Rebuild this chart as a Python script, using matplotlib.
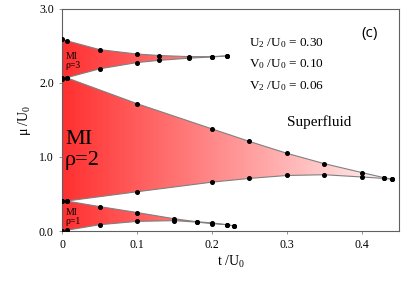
import matplotlib.pyplot as plt
import numpy as np
from matplotlib.patches import Polygon
from matplotlib.colors import LinearSegmentedColormap

# lobe rho=1
t1 = [0, 0.006, 0.05, 0.1, 0.15, 0.18, 0.2, 0.22, 0.23]
up1 = [0.405, 0.405, 0.33, 0.25, 0.165, 0.125, 0.11, 0.085, 0.067]
lo1 = [0.005, 0.01, 0.085, 0.13, 0.14, 0.12, 0.10, 0.085, 0.067]

# lobe rho=2
t2 = [0, 0.006, 0.1, 0.2, 0.25, 0.3, 0.35, 0.4, 0.43, 0.44]
up2 = [2.05, 2.07, 1.72, 1.38, 1.21, 1.05, 0.91, 0.79, 0.72, 0.70]
lo2 = [0.405, 0.405, 0.53, 0.66, 0.71, 0.75, 0.76, 0.73, 0.71, 0.70]

# lobe rho=3
t3 = [0, 0.006, 0.05, 0.1, 0.13, 0.17, 0.2, 0.22]
up3 = [2.59, 2.57, 2.45, 2.39, 2.37, 2.355, 2.355, 2.365]
lo3 = [2.06, 2.07, 2.19, 2.275, 2.305, 2.335, 2.35, 2.365]

lobes = [(t1, up1, lo1), (t2, up2, lo2), (t3, up3, lo3)]

plt.rcParams['font.family'] = ['Liberation Serif', 'DejaVu Serif']
plt.rcParams['mathtext.fontset'] = 'custom'
plt.rcParams['mathtext.rm'] = 'Liberation Serif'
plt.rcParams['mathtext.it'] = 'Liberation Serif:italic'

fig = plt.figure(figsize=(4.14, 2.9), dpi=100)
ax = fig.add_axes([0.150, 0.2034, 0.814, 0.766])

cmap = LinearSegmentedColormap.from_list('rw', ['#ff3030', '#ffffff'])
grad = np.linspace(0, 1, 256).reshape(1, -1)

for t, up, lo in lobes:
    verts = list(zip(t, up)) + list(zip(t[::-1], lo[::-1]))
    poly = Polygon(verts, closed=True, facecolor='none', edgecolor='none')
    ax.add_patch(poly)
    im = ax.imshow(grad, extent=[0, 0.47, 0, 3], aspect='auto', cmap=cmap,
                   origin='lower', zorder=1)
    im.set_clip_path(poly)
    for ys in (up, lo):
        ax.plot(t, ys, color='#808080', lw=0.8, zorder=2)
        ax.plot(t, ys, 'o', color='black', ms=2.6, zorder=3)

ax.set_xlim(0, 0.45)
ax.set_ylim(0, 3)
ax.set_xticks([0, 0.1, 0.2, 0.3, 0.4])
ax.set_xticklabels(['0', '0.1', '0.2', '0.3', '0.4'])
ax.set_yticks([0, 1, 2, 3])
ax.set_yticklabels(['0.0', '1.0', '2.0', '3.0'])
ax.tick_params(length=2, width=0.6, color='#808080', labelsize=8.5, pad=4)
for s in ax.spines.values():
    s.set_color('#606060')
    s.set_linewidth(0.8)

ax.set_xlabel('t /U$_0$', fontsize=10, labelpad=2)
ax.set_ylabel('μ /U$_0$', fontsize=10)

ax.text(0.005, 2.32, 'MI', fontsize=7)
ax.text(0.005, 2.20, 'ρ=3', fontsize=7)
ax.text(0.004, 1.17, 'MI', fontsize=16)
ax.text(0.004, 0.89, 'ρ=2', fontsize=16)
ax.text(0.005, 0.21, 'MI', fontsize=7)
ax.text(0.005, 0.09, 'ρ=1', fontsize=7)

ax.text(0.25, 2.5, 'U$_2$ /U$_0$ = 0.30', fontsize=9.5)
ax.text(0.25, 2.21, 'V$_0$ /U$_0$ = 0.10', fontsize=9.5)
ax.text(0.25, 1.92, 'V$_2$ /U$_0$ = 0.06', fontsize=9.5)
ax.text(0.30, 1.42, 'Superfluid', fontsize=11)
ax.text(0.40, 2.62, '(c)', fontsize=11, family='Open Sans')

fig.savefig('out.png', dpi=100)
